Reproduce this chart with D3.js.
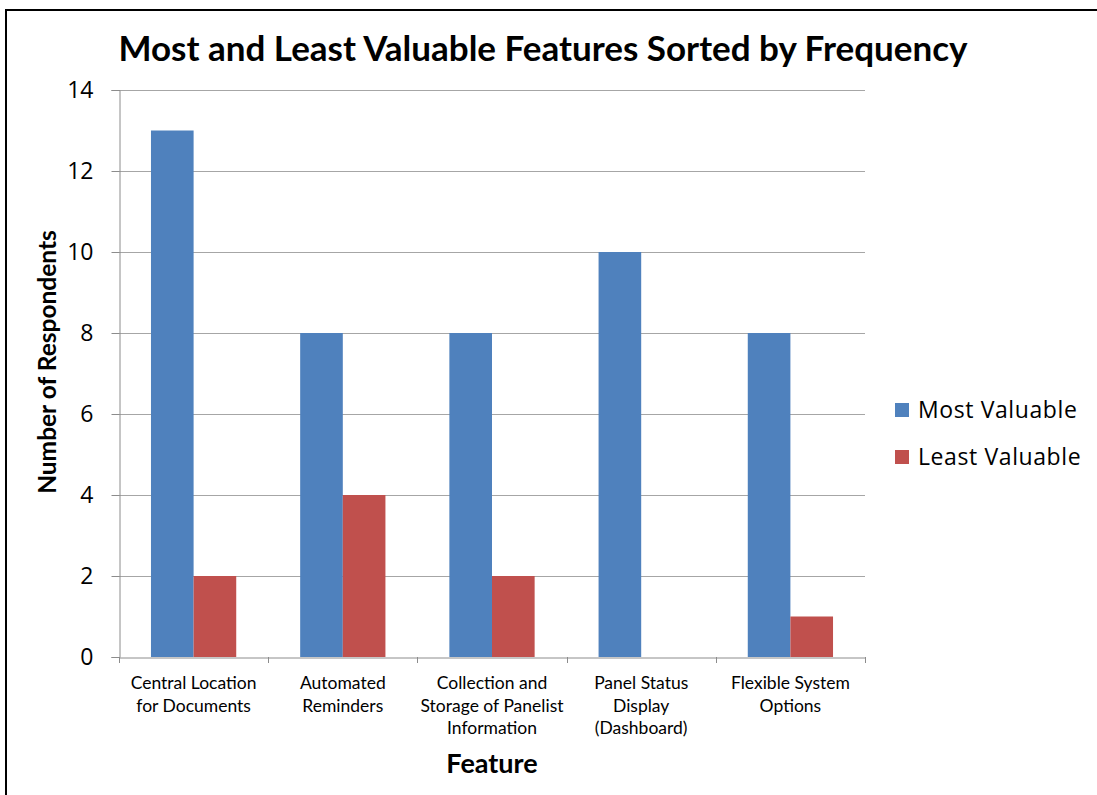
<!DOCTYPE html>
<html>
<head>
<meta charset="utf-8">
<title>Most and Least Valuable Features</title>
<script src="https://d3js.org/d3.v7.min.js"></script>
<style>
  body { margin: 0; background: #fff; }
  svg text { fill: #000; }
</style>
</head>
<body>
<div id="chart"></div>
<script>
// data
var features = [
  ["Central Location", "for Documents"],
  ["Automated", "Reminders"],
  ["Collection and", "Storage of Panelist", "Information"],
  ["Panel Status", "Display", "(Dashboard)"],
  ["Flexible System", "Options"]
];
var seriesNames = ["Most Valuable", "Least Valuable"];
var mostValuable = [13, 8, 8, 10, 8];
var leastValuable = [2, 4, 2, 0, 1];
var yTicks = [0, 2, 4, 6, 8, 10, 12, 14];
var colors = ["#4f81bd", "#c0504d"];

var W = 1097, H = 795;
var plot = {left: 119, right: 865, top: 90, bottom: 657};

var svg = d3.select("#chart").append("svg")
    .attr("width", W).attr("height", H);

// frame lines (top and left only, like the screenshot)
svg.append("line").attr("x1", 5).attr("x2", W).attr("y1", 10).attr("y2", 10)
    .attr("stroke", "#000").attr("stroke-width", 2);
svg.append("line").attr("x1", 6).attr("x2", 6).attr("y1", 9).attr("y2", H)
    .attr("stroke", "#000").attr("stroke-width", 2);

var x = d3.scaleBand()
    .domain(d3.range(features.length))
    .range([plot.left, plot.right])
    .paddingInner(0).paddingOuter(0);

var x1 = d3.scaleBand()
    .domain(d3.range(seriesNames.length))
    .range([0, x.bandwidth()])
    .paddingInner(0).paddingOuter(0.75);

var y = d3.scaleLinear().domain([0, 14]).range([plot.bottom, plot.top]);

// gridlines
svg.append("g")
  .selectAll("line").data(yTicks.filter(d => d > 0)).join("line")
    .attr("x1", plot.left).attr("x2", plot.right)
    .attr("y1", d => Math.round(y(d)) + 0.5).attr("y2", d => Math.round(y(d)) + 0.5)
    .attr("stroke", "#a6a6a6").attr("stroke-width", 1);

// y axis
var yAxis = svg.append("g")
    .attr("transform", "translate(" + (plot.left + 0.5) + ",0)")
    .call(d3.axisLeft(y).tickValues(yTicks).tickSize(8).tickPadding(18));
yAxis.select(".domain").attr("stroke", "#8c8c8c");
yAxis.selectAll(".tick line").attr("stroke", "#8c8c8c");
yAxis.selectAll(".tick text")
    .style("font-family", "'Open Sans', sans-serif").style("font-size", "23px")
    .attr("fill", "#000");

// bars
var groups = features.map((f, i) => [mostValuable[i], leastValuable[i]]);
svg.append("g")
  .selectAll("g").data(groups).join("g")
    .attr("transform", (d, i) => "translate(" + x(i) + ",0)")
  .selectAll("rect").data(d => d).join("rect")
    .attr("x", (d, j) => x1(j))
    .attr("width", x1.bandwidth())
    .attr("y", d => y(d))
    .attr("height", d => y(0) - y(d))
    .attr("fill", (d, j) => colors[j]);

// x axis
var xAxis = svg.append("g")
    .attr("transform", "translate(0," + (plot.bottom + 0.5) + ")")
    .call(d3.axisBottom(x).tickSize(0).tickFormat(""));
xAxis.select(".domain").attr("stroke", "#8c8c8c");
xAxis.selectAll(".tick").remove();
svg.append("g")
  .selectAll("line").data(d3.range(features.length + 1)).join("line")
    .attr("x1", i => Math.round(i < features.length ? x(i) : plot.right) + 0.5)
    .attr("x2", i => Math.round(i < features.length ? x(i) : plot.right) + 0.5)
    .attr("y1", plot.bottom).attr("y2", plot.bottom + 6)
    .attr("stroke", "#8c8c8c");

// category labels
svg.append("g")
  .selectAll("text").data(features).join("text")
    .attr("x", (d, i) => x(i) + x.bandwidth() / 2)
    .attr("y", 689)
    .attr("text-anchor", "middle")
    .style("font-family", "Lato, sans-serif").style("font-size", "17.5px")
  .selectAll("tspan").data(d => d).join("tspan")
    .attr("x", function() { return d3.select(this.parentNode).attr("x"); })
    .attr("dy", (d, k) => k === 0 ? 0 : 22.5)
    .text(d => d);

// title
svg.append("text")
    .attr("x", 543).attr("y", 61)
    .attr("text-anchor", "middle")
    .style("font-family", "Lato, sans-serif").style("font-weight", "bold")
    .style("font-size", "35px")
    .text("Most and Least Valuable Features Sorted by Frequency");

// axis titles
svg.append("text")
    .attr("transform", "translate(56,362) rotate(-90)")
    .attr("text-anchor", "middle")
    .style("font-family", "Lato, sans-serif").style("font-weight", "bold")
    .style("font-size", "24.5px")
    .text("Number of Respondents");

svg.append("text")
    .attr("x", (plot.left + plot.right) / 2).attr("y", 773)
    .attr("text-anchor", "middle")
    .style("font-family", "Lato, sans-serif").style("font-weight", "bold")
    .style("font-size", "27px")
    .text("Feature");

// legend
var legend = svg.append("g").attr("transform", "translate(895,0)")
  .selectAll("g").data(seriesNames).join("g")
    .attr("transform", (d, i) => "translate(0," + (418 + i * 47) + ")");
legend.append("rect")
    .attr("x", 0).attr("y", -15).attr("width", 14).attr("height", 14)
    .attr("fill", (d, i) => colors[i]);
legend.append("text")
    .attr("x", 23).attr("y", 0)
    .style("font-family", "'Open Sans', sans-serif").style("font-size", "23px")
    .style("letter-spacing", "0.6px")
    .text(d => d);
</script>
</body>
</html>
